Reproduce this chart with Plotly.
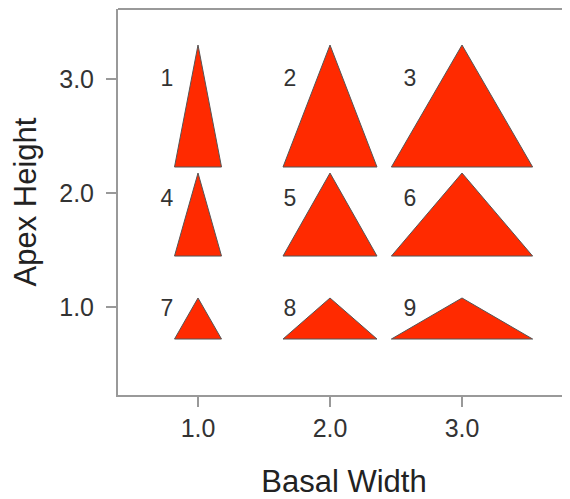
import plotly.graph_objects as go

# Grid values
basal_width = [1.0, 2.0, 3.0]
apex_height = [1.0, 2.0, 3.0]
x_tick_labels = ["1.0", "2.0", "3.0"]
y_tick_labels = ["1.0", "2.0", "3.0"]

# Triangle geometry (data units)
half_base = [0.178, 0.356, 0.535]          # per basal width column (1, 2, 3)
apex_y = [1.079, 2.175, 3.298]             # per apex height row (1, 2, 3)
base_y = [0.719, 1.447, 2.228]             # per apex height row (1, 2, 3)
label_x = [0.765, 1.697, 2.606]
label_y = [0.97, 1.94, 2.99]
triangle_ids = [[7, 8, 9], [4, 5, 6], [1, 2, 3]]   # rows by apex height 1, 2, 3

xs, ys = [], []
for r in range(3):
    for c in range(3):
        cx = basal_width[c]
        xs += [cx - half_base[c], cx, cx + half_base[c], cx - half_base[c], None]
        ys += [base_y[r], apex_y[r], base_y[r], base_y[r], None]

fig = go.Figure()
fig.add_trace(go.Scatter(
    x=xs, y=ys, mode="lines", fill="toself",
    fillcolor="#FF2A00", line=dict(color="#555555", width=1),
    hoverinfo="skip", showlegend=False,
))

lx, ly, lt = [], [], []
for r in range(3):
    for c in range(3):
        lx.append(label_x[c]); ly.append(label_y[r]); lt.append(str(triangle_ids[r][c]))
fig.add_trace(go.Scatter(
    x=lx, y=ly, text=lt, mode="text",
    textfont=dict(family="Liberation Sans, Arial, sans-serif", size=23, color="#333333"),
    hoverinfo="skip", showlegend=False,
))

axis_font = dict(family="Liberation Sans, Arial, sans-serif", size=25, color="#333333")
title_font = dict(family="Liberation Sans, Arial, sans-serif", size=31, color="#222222")

fig.update_layout(
    width=562, height=491,
    margin=dict(l=110, r=0, t=1, b=104),
    plot_bgcolor="white", paper_bgcolor="white",
    xaxis=dict(
        range=[0.394, 3.818], tickvals=basal_width, ticktext=x_tick_labels,
        showgrid=False, zeroline=False, showline=True, linecolor="#999999", linewidth=2,
        ticks="outside", ticklen=10, tickwidth=2, tickcolor="#999999",
        tickfont=axis_font, automargin=False, ticklabelstandoff=0,
        title=dict(text="Basal Width", font=title_font, standoff=35),
    ),
    yaxis=dict(
        range=[0.228, 3.614], tickvals=apex_height, ticktext=y_tick_labels,
        showgrid=False, zeroline=False, showline=True, linecolor="#999999", linewidth=2,
        ticks="outside", ticklen=10, tickwidth=2, tickcolor="#999999",
        tickfont=axis_font, automargin=False, ticklabelstandoff=7,
        title=dict(text="Apex Height", font=title_font, standoff=24),
    ),
    shapes=[dict(type="line", xref="paper", yref="paper", x0=0, x1=1, y0=1, y1=1,
                 line=dict(color="#999999", width=2))],
)

fig.write_html("out.html")
